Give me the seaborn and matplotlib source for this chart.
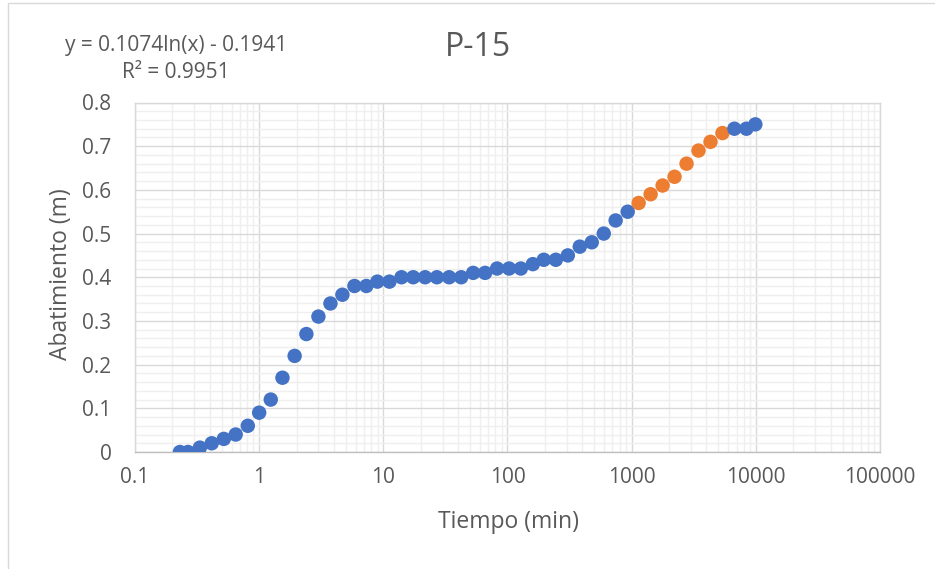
import matplotlib
matplotlib.use("Agg")
import matplotlib.pyplot as plt
import matplotlib.ticker as mticker
from matplotlib.patches import Rectangle
import seaborn as sns
import pandas as pd

# ---- data ----
tiempo = [0.23, 0.267, 0.333, 0.415, 0.519, 0.647, 0.81, 1.0, 1.24, 1.54,
          1.93, 2.4, 3.0, 3.75, 4.68, 5.85, 7.3, 8.95, 11.2, 14.0,
          17.4, 21.7, 27.0, 33.9, 42.4, 52.9, 66.0, 82.4, 103, 128,
          160, 196, 245, 306, 382, 477, 596, 743, 929, 1138,
          1421, 1775, 2215, 2767, 3454, 4314, 5385, 6720, 8393, 9910]
abatimiento = [0.00, 0.00, 0.01, 0.02, 0.03, 0.04, 0.06, 0.09, 0.12, 0.17,
               0.22, 0.27, 0.31, 0.34, 0.36, 0.38, 0.38, 0.39, 0.39, 0.40,
               0.40, 0.40, 0.40, 0.40, 0.40, 0.41, 0.41, 0.42, 0.42, 0.42,
               0.43, 0.44, 0.44, 0.45, 0.47, 0.48, 0.50, 0.53, 0.55, 0.57,
               0.59, 0.61, 0.63, 0.66, 0.69, 0.71, 0.73, 0.74, 0.74, 0.75]
grupo = ["datos"] * 39 + ["ajuste"] * 8 + ["datos"] * 3
x_ticks = [0.1, 1, 10, 100, 1000, 10000, 100000]
x_labels = ["0.1", "1", "10", "100", "1000", "10000", "100000"]
y_ticks = [0, 0.1, 0.2, 0.3, 0.4, 0.5, 0.6, 0.7, 0.8]
y_labels = ["0", "0.1", "0.2", "0.3", "0.4", "0.5", "0.6", "0.7", "0.8"]
titulo = "P-15"
ecuacion = "y = 0.1074ln(x) - 0.1941"
r2 = "R² = 0.9951"

df = pd.DataFrame({"Tiempo": tiempo, "Abatimiento": abatimiento, "grupo": grupo})

sns.set_style("white")
plt.rcParams["font.family"] = ["Open Sans", "DejaVu Sans"]
TXT = "#595959"

W, H = 935, 569
fig = plt.figure(figsize=(W / 100, H / 100), dpi=100)
fig.patch.set_facecolor("white")
# chart-area border
fig.add_artist(Rectangle((8 / W, -0.05), 2, 1 - 3 / H + 0.05, transform=fig.transFigure,
                         fill=False, edgecolor="#D9D9D9", linewidth=1.0))

ax = fig.add_axes([135 / W, 1 - 452 / H, (880 - 135) / W, (452 - 102.5) / H])

sns.scatterplot(data=df, x="Tiempo", y="Abatimiento", hue="grupo",
                palette={"datos": "#4472C4", "ajuste": "#ED7D31"},
                s=108, linewidth=0, legend=False, ax=ax, zorder=3)

ax.set_xscale("log")
ax.set_xlim(0.1, 100000)
ax.set_ylim(0, 0.8)
ax.set_xticks(x_ticks)
ax.set_xticklabels(x_labels)
ax.set_yticks(y_ticks)
ax.set_yticklabels(y_labels)
ax.xaxis.set_minor_locator(mticker.LogLocator(base=10, subs=range(2, 10), numticks=20))
ax.xaxis.set_minor_formatter(mticker.NullFormatter())
ax.yaxis.set_minor_locator(mticker.MultipleLocator(0.02))

ax.grid(which="minor", color="#EFEFEF", linewidth=1.0, zorder=0)
ax.grid(which="major", color="#D9D9D9", linewidth=1.0, zorder=1)
ax.set_axisbelow(True)

for side in ["top", "right", "left"]:
    ax.spines[side].set_color("#D9D9D9")
    ax.spines[side].set_linewidth(1.0)
ax.spines["bottom"].set_color("#BFBFBF")
ax.spines["bottom"].set_linewidth(1.0)

ax.tick_params(which="both", length=0)
ax.tick_params(axis="x", pad=11, labelsize=15, labelcolor=TXT)
ax.tick_params(axis="y", pad=17, labelsize=15, labelcolor=TXT)

ax.set_xlabel("Tiempo (min)", fontsize=16.5, color=TXT)
ax.set_ylabel("Abatimiento (m)", fontsize=16.5, color=TXT)
ax.xaxis.set_label_coords((508 - 135) / (880 - 135), -(522 - 452) / (452 - 102.5))
ax.yaxis.set_label_coords(-(135 - 61) / (880 - 135), (452 - 274) / (452 - 102.5))
ax.xaxis.label.set_va("center")
ax.yaxis.label.set_va("center")

fig.text(478 / W, 1 - 48 / H, titulo, ha="center", va="center", fontsize=23, color=TXT)
fig.text(176 / W, 1 - 45 / H, ecuacion, ha="center", va="center", fontsize=15, color=TXT)
fig.text(176 / W, 1 - 73 / H, r2, ha="center", va="center", fontsize=15, color=TXT)

fig.savefig("out.png", dpi=100, facecolor="white")
